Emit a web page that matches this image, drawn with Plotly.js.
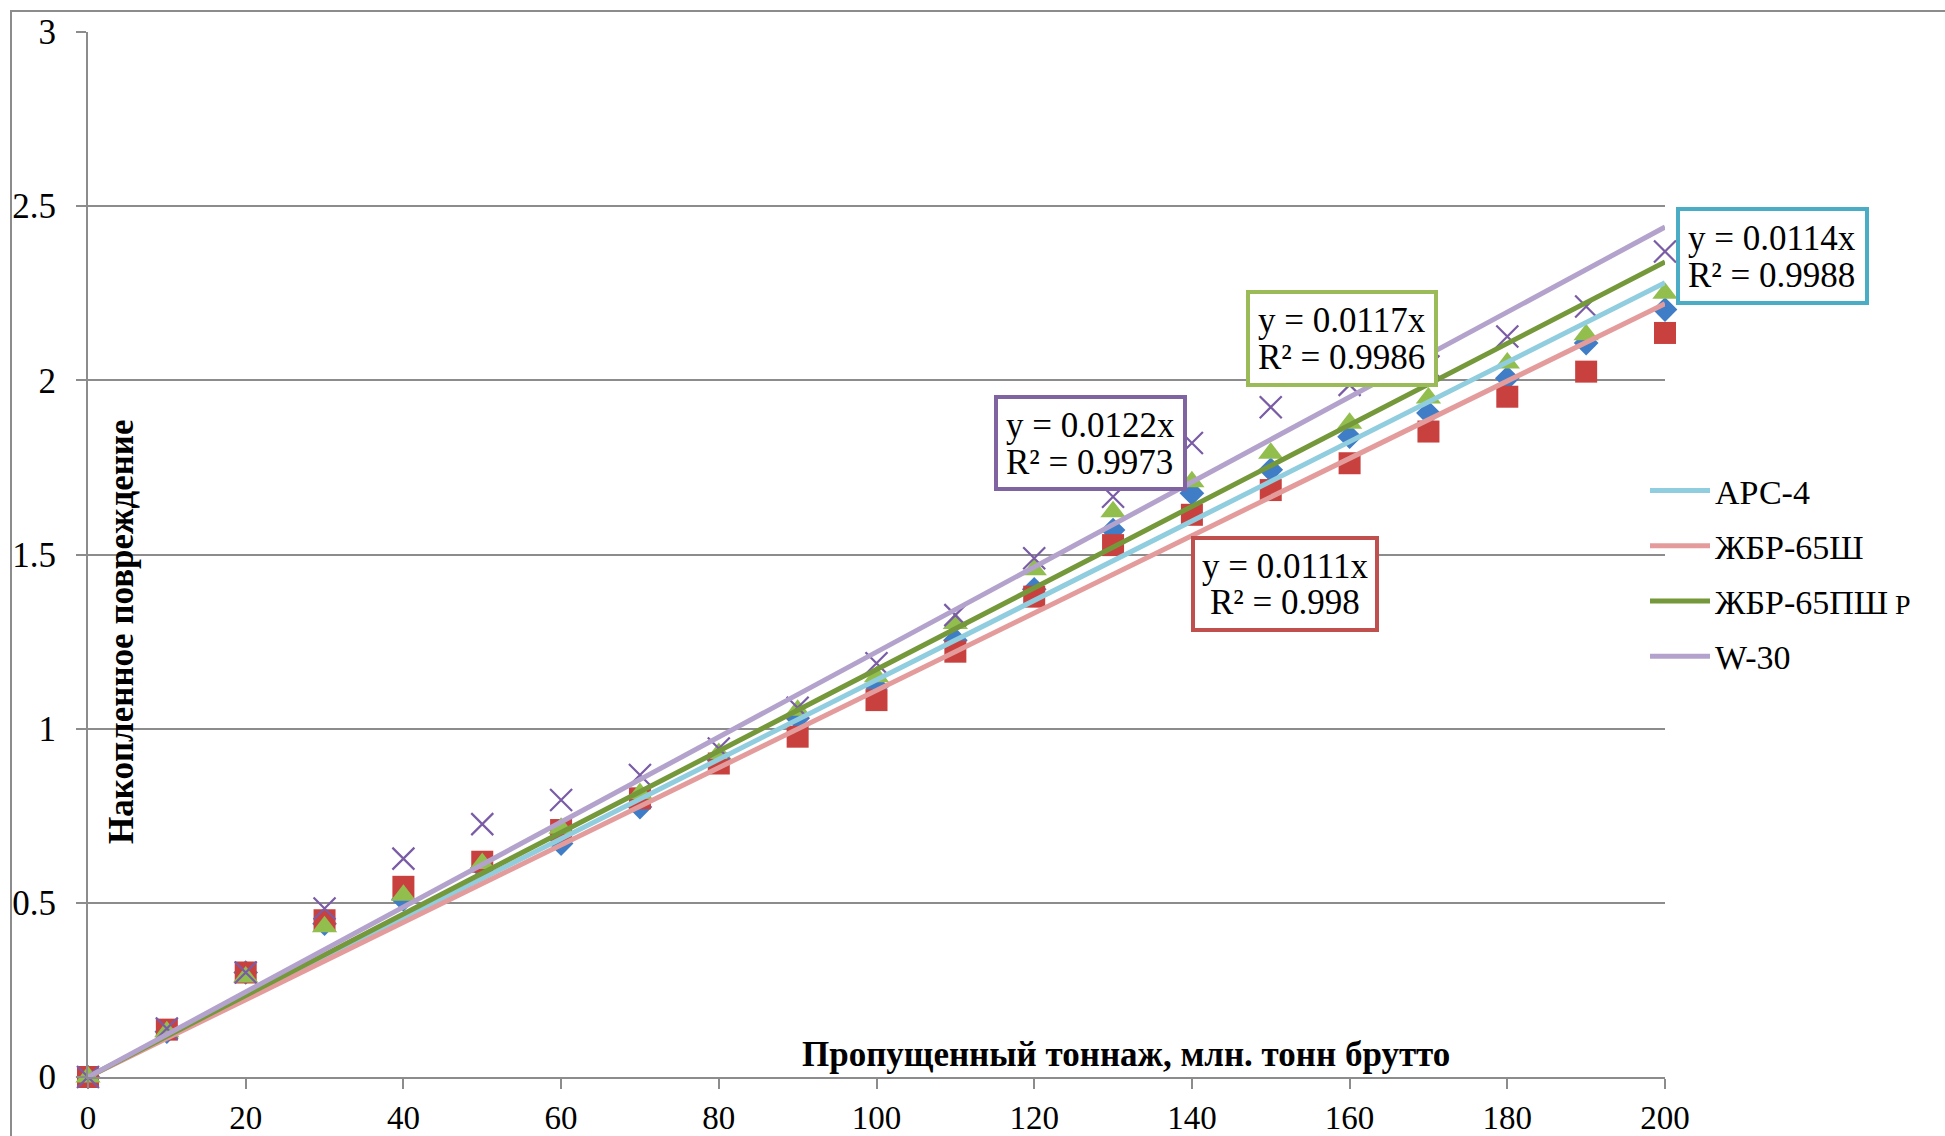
<!DOCTYPE html>
<html>
<head>
<meta charset="utf-8">
<script src="https://cdn.plot.ly/plotly-3.0.1.min.js"></script>
<style>
  html, body { margin: 0; padding: 0; background: #ffffff; }
  #chart { width: 1945px; height: 1136px; }
</style>
</head>
<body>
<div id="chart"></div>
<script>
// Пропущенный тоннаж, млн. тонн брутто
const tonnage = [0, 10, 20, 30, 40, 50, 60, 70, 80, 90, 100, 110, 120, 130, 140, 150, 160, 170, 180, 190, 200];

// Накопленное повреждение по типам скреплений
const damageARS4 = [0, 0.13, 0.30, 0.44, 0.51, 0.60, 0.67, 0.775, 0.91, 1.03, 1.12, 1.254, 1.40, 1.57, 1.676, 1.743, 1.838, 1.906, 2.006, 2.107, 2.203];
const damageZhBR65Sh = [0, 0.136, 0.30, 0.45, 0.546, 0.618, 0.709, 0.80, 0.90, 0.977, 1.082, 1.221, 1.379, 1.527, 1.614, 1.685, 1.762, 1.853, 1.953, 2.025, 2.136];
const damageZhBR65PShR = [0, 0.13, 0.287, 0.431, 0.522, 0.613, 0.714, 0.814, 0.929, 1.053, 1.149, 1.302, 1.456, 1.623, 1.709, 1.791, 1.877, 1.949, 2.05, 2.131, 2.25];
const damageW30 = [0, 0.139, 0.30, 0.484, 0.627, 0.726, 0.795, 0.867, 0.943, 1.06, 1.188, 1.326, 1.489, 1.666, 1.82, 1.923, 1.987, 2.04, 2.126, 2.212, 2.37];

// Линейные тренды через начало координат: y = k·x
const seriesNames = ['АРС-4', 'ЖБР-65Ш', 'ЖБР-65ПШР', 'W-30'];
const trendSlopes = [0.0114, 0.0111, 0.0117, 0.0122];
const trendR2 = [0.9988, 0.998, 0.9986, 0.9973];
const trendSpan = [0, 200];

const FONT = '"Liberation Serif", "Times New Roman", serif';

// plot area in pixels
const W = 1945, H = 1136;
const L = 88, R = 1665, T = 32, B = 1077;
const px = v => (v - L) / (R - L);
const py = v => (B - v) / (B - T);

const markerColors = ['#3F7DC6', '#C8413F', '#92BE4E', '#7A5CA6'];
const trendColors = ['#90CDDE', '#E39C9B', '#74983A', '#B3A3CC'];
const boxColors = ['#4BACC6', '#C0504D', '#9BBB59', '#8064A2'];
const symbols = ['diamond', 'square', 'triangle-up', 'x-thin'];
const sizes = [19, 22, 22, 22];
const seriesValues = [damageARS4, damageZhBR65Sh, damageZhBR65PShR, damageW30];

const traces = [];
seriesValues.forEach((vals, i) => {
  const m = { symbol: symbols[i], size: sizes[i], color: markerColors[i] };
  if (symbols[i] === 'x-thin') m.line = { color: markerColors[i], width: 2.2 };
  traces.push({
    type: 'scatter', mode: 'markers', x: tonnage, y: vals,
    name: seriesNames[i], showlegend: false, marker: m, cliponaxis: false, hoverinfo: 'x+y'
  });
});
trendSlopes.forEach((k, i) => {
  traces.push({
    type: 'scatter', mode: 'lines', x: trendSpan, y: trendSpan.map(x => k * x),
    name: i === 2 ? 'ЖБР-65ПШ<span style="font-size:28px"> Р</span>' : seriesNames[i],
    legendgroup: 'g' + i,
    line: { color: trendColors[i], width: 5 }, hoverinfo: 'skip'
  });
});

// equation boxes: [left, top, right, bottom] in px, text alignment
const boxes = [
  { i: 0, rect: [1678, 209, 1867, 303], align: 'left' },
  { i: 1, rect: [1193, 538, 1377, 630], align: 'center' },
  { i: 2, rect: [1248, 292, 1436, 385], align: 'left' },
  { i: 3, rect: [996, 397, 1185, 489], align: 'left' }
];

const shapes = [
  // outer chart border
  { type: 'rect', xref: 'paper', yref: 'paper', x0: px(11), x1: px(2100), y0: py(1300), y1: py(11),
    line: { color: '#8C8C8C', width: 2 }, fillcolor: 'rgba(0,0,0,0)', layer: 'below' }
];
const annotations = [];

boxes.forEach(b => {
  const [l, t, r, btm] = b.rect;
  shapes.push({ type: 'rect', xref: 'paper', yref: 'paper', x0: px(l), x1: px(r), y0: py(btm), y1: py(t),
    line: { color: boxColors[b.i], width: 4 }, fillcolor: '#ffffff', layer: 'above' });
  const cy = (t + btm) / 2;
  const lines = ['y = ' + trendSlopes[b.i] + 'x', 'R² = ' + trendR2[b.i]];
  lines.forEach((txt, j) => {
    const yc = cy + (j === 0 ? -18 : 19);
    const a = { xref: 'paper', yref: 'paper', y: py(yc), yanchor: 'middle', text: txt, showarrow: false,
      font: { family: FONT, size: 35, color: '#000' } };
    if (b.align === 'left') { a.x = px(l + 8); a.xanchor = 'left'; }
    else { a.x = px((l + r) / 2); a.xanchor = 'center'; }
    annotations.push(a);
  });
});

// axis titles drawn inside the plot area
annotations.push({ xref: 'paper', yref: 'paper', x: px(1126), y: py(1054), xanchor: 'center', yanchor: 'middle',
  text: '<b>Пропущенный тоннаж, млн. тонн брутто</b>', showarrow: false,
  font: { family: FONT, size: 35, color: '#000' } });
annotations.push({ xref: 'paper', yref: 'paper', x: px(121), y: py(632), xanchor: 'center', yanchor: 'middle',
  text: '<b>Накопленное повреждение</b>', textangle: -90, showarrow: false,
  font: { family: FONT, size: 35, color: '#000' } });

const layout = {
  width: W, height: H,
  margin: { l: L, r: W - R, t: T, b: H - B, pad: 0 },
  paper_bgcolor: '#ffffff', plot_bgcolor: '#ffffff',
  font: { family: FONT, color: '#000' },
  xaxis: {
    range: [0, 200], tickvals: tonnage.filter(v => v % 20 === 0), ticks: 'outside', ticklen: 10,
    tickwidth: 2, tickcolor: '#8C8C8C', showgrid: false, zeroline: false,
    showline: true, linecolor: '#8C8C8C', linewidth: 2,
    tickfont: { family: FONT, size: 33, color: '#000' }, ticklabelstandoff: 0, fixedrange: true
  },
  yaxis: {
    range: [0, 3], dtick: 0.5, ticks: 'outside', ticklen: 10, tickwidth: 2, tickcolor: '#8C8C8C',
    showgrid: true, gridcolor: '#8C8C8C', gridwidth: 2, zeroline: false,
    showline: true, linecolor: '#8C8C8C', linewidth: 2,
    tickfont: { family: FONT, size: 35, color: '#000' }, ticklabelstandoff: 13, fixedrange: true
  },
  showlegend: true,
  legend: {
    x: px(1645), y: py(462), xanchor: 'left', yanchor: 'top',
    font: { family: FONT, size: 34, color: '#000' },
    bgcolor: 'rgba(0,0,0,0)', borderwidth: 0, itemwidth: 60, tracegroupgap: 8, itemclick: false
  },
  shapes: shapes,
  annotations: annotations
};

Plotly.newPlot('chart', traces, layout, { displayModeBar: false, staticPlot: true });
</script>
</body>
</html>
